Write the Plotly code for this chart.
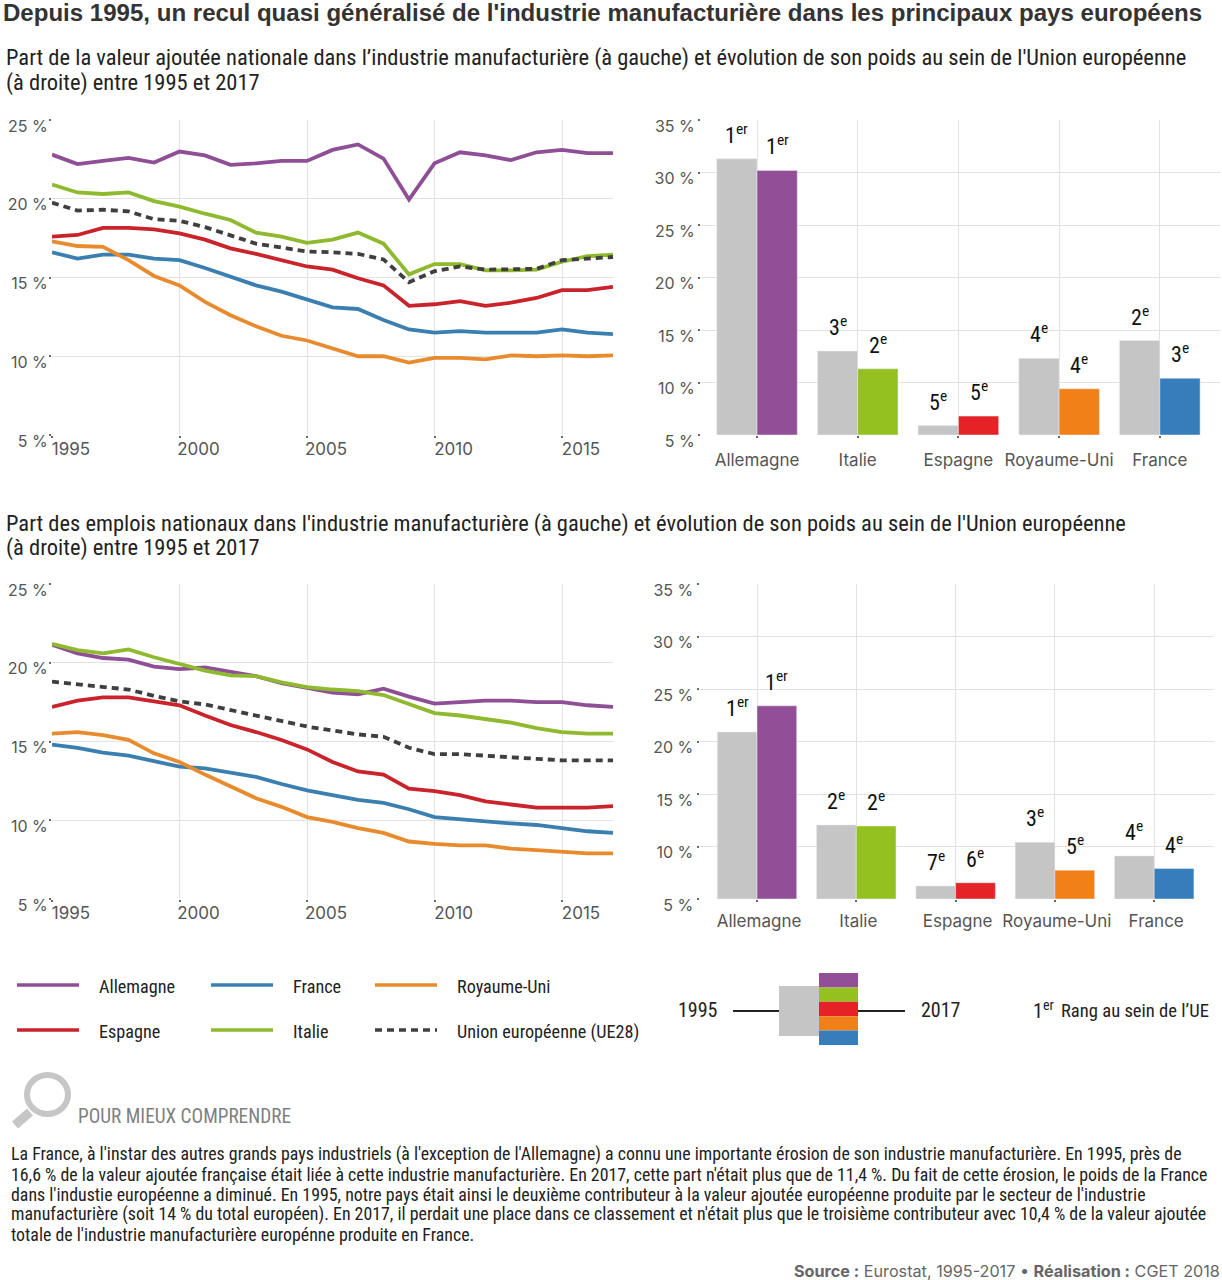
import plotly.graph_objects as go

W = 1222
H = 1280

years = list(range(1995, 2018))
pays = ["Allemagne", "Italie", "Espagne", "Royaume-Uni", "France"]
pct_ticks = [5, 10, 15, 20, 25]
pct_ticks_bars = [5, 10, 15, 20, 25, 30, 35]
year_ticks = [1995, 2000, 2005, 2010, 2015]

# valeur ajoutee, part nationale
va_allemagne = [22.8, 22.2, 22.4, 22.6, 22.3, 23.0, 22.75, 22.15, 22.25, 22.4, 22.4, 23.1, 23.45, 22.55, 19.95, 22.25, 22.95, 22.75, 22.45, 22.95, 23.1, 22.9, 22.9]
va_france = [16.6, 16.2, 16.45, 16.45, 16.2, 16.1, 15.6, 15.05, 14.5, 14.1, 13.6, 13.1, 13.0, 12.3, 11.7, 11.5, 11.6, 11.5, 11.5, 11.5, 11.7, 11.5, 11.4]
va_ru = [17.3, 17.0, 16.95, 16.1, 15.1, 14.5, 13.45, 12.6, 11.9, 11.3, 11.0, 10.5, 10.0, 10.0, 9.6, 9.9, 9.9, 9.8, 10.05, 10.0, 10.05, 10.0, 10.05]
va_espagne = [17.6, 17.7, 18.15, 18.15, 18.05, 17.8, 17.4, 16.85, 16.5, 16.1, 15.7, 15.5, 14.95, 14.5, 13.2, 13.3, 13.5, 13.2, 13.4, 13.7, 14.2, 14.2, 14.4]
va_italie = [20.9, 20.4, 20.3, 20.4, 19.85, 19.5, 19.05, 18.65, 17.85, 17.6, 17.2, 17.4, 17.85, 17.15, 15.2, 15.85, 15.85, 15.45, 15.45, 15.5, 16.0, 16.35, 16.45]
va_ue = [19.75, 19.25, 19.3, 19.2, 18.7, 18.6, 18.2, 17.7, 17.15, 16.9, 16.65, 16.6, 16.5, 16.15, 14.7, 15.4, 15.7, 15.5, 15.5, 15.55, 16.1, 16.2, 16.3]

# emplois, part nationale
em_allemagne = [21.15, 20.6, 20.3, 20.2, 19.75, 19.6, 19.7, 19.4, 19.15, 18.7, 18.4, 18.1, 18.0, 18.35, 17.85, 17.4, 17.5, 17.6, 17.6, 17.5, 17.5, 17.3, 17.2]
em_france = [14.8, 14.6, 14.3, 14.1, 13.75, 13.4, 13.3, 13.0, 12.75, 12.3, 11.9, 11.6, 11.3, 11.1, 10.7, 10.2, 10.05, 9.95, 9.8, 9.7, 9.5, 9.3, 9.2]
em_ru = [15.5, 15.6, 15.4, 15.1, 14.25, 13.7, 12.9, 12.15, 11.4, 10.85, 10.2, 9.9, 9.5, 9.2, 8.65, 8.5, 8.4, 8.4, 8.2, 8.1, 8.0, 7.9, 7.9]
em_espagne = [17.2, 17.6, 17.8, 17.8, 17.55, 17.3, 16.65, 16.05, 15.6, 15.1, 14.5, 13.7, 13.1, 12.9, 12.0, 11.85, 11.6, 11.2, 11.0, 10.8, 10.8, 10.8, 10.9]
em_italie = [21.2, 20.8, 20.6, 20.85, 20.35, 19.9, 19.5, 19.2, 19.15, 18.75, 18.45, 18.3, 18.2, 17.95, 17.4, 16.8, 16.65, 16.45, 16.2, 15.85, 15.6, 15.5, 15.5]
em_ue = [18.8, 18.65, 18.5, 18.3, 17.9, 17.55, 17.35, 17.0, 16.65, 16.3, 15.95, 15.7, 15.45, 15.3, 14.6, 14.2, 14.2, 14.1, 14.0, 13.9, 13.8, 13.8, 13.8]

# poids au sein de l'UE, 1995 et 2017
va_poids_1995 = [31.3, 13.0, 5.9, 12.3, 14.0]
va_poids_2017 = [30.2, 11.3, 6.8, 9.4, 10.4]
va_rang_1995 = ["1<sup>er</sup>", "3<sup>e</sup>", "5<sup>e</sup>", "4<sup>e</sup>", "2<sup>e</sup>"]
va_rang_2017 = ["1<sup>er</sup>", "2<sup>e</sup>", "5<sup>e</sup>", "4<sup>e</sup>", "3<sup>e</sup>"]

em_poids_1995 = [20.9, 12.05, 6.25, 10.4, 9.1]
em_poids_2017 = [23.4, 11.95, 6.55, 7.75, 7.9]
em_rang_1995 = ["1<sup>er</sup>", "2<sup>e</sup>", "7<sup>e</sup>", "3<sup>e</sup>", "4<sup>e</sup>"]
em_rang_2017 = ["1<sup>er</sup>", "2<sup>e</sup>", "6<sup>e</sup>", "5<sup>e</sup>", "4<sup>e</sup>"]

titre = "Depuis 1995, un recul quasi généralisé de l'industrie manufacturière dans les principaux pays européens"
sous_titre_va = ["Part de la valeur ajoutée nationale dans l’industrie manufacturière (à gauche) et évolution de son poids au sein de l'Union européenne",
                 "(à droite) entre 1995 et 2017"]
sous_titre_em = ["Part des emplois nationaux dans l'industrie manufacturière (à gauche) et évolution de son poids au sein de l'Union européenne",
                 "(à droite) entre 1995 et 2017"]
texte = ["La France, à l'instar des autres grands pays industriels (à l'exception de l'Allemagne) a connu une importante érosion de son industrie manufacturière. En 1995, près de",
         "16,6 % de la valeur ajoutée française était liée à cette industrie manufacturière. En 2017, cette part n'était plus que de 11,4 %. Du fait de cette érosion, le poids de la France",
         "dans l'industie européenne a diminué. En 1995, notre pays était ainsi le deuxième contributeur à la valeur ajoutée européenne produite par le secteur de l'industrie",
         "manufacturière (soit 14 % du total européen). En 2017, il perdait une place dans ce classement et n'était plus que le troisième contributeur avec 10,4 % de la valeur ajoutée",
         "totale de l'industrie manufacturière europénne produite en France."]

VIOLET = "#8e4f96"
VERT = "#8fb92f"
ROUGE = "#c9242b"
ORANGE = "#e88b2e"
BLEU = "#3a7fb0"
GRIS_UE = "#3f3f3f"
GRIS_BAR = "#c6c5c5"
bar_colors = ["#924f98", "#94c020", "#e52225", "#f18019", "#367ebb"]

NARROW = "Roboto Condensed, Noto Sans ExtraCondensed, Noto Sans Condensed, DejaVu Sans Condensed, Roboto"
WIDE = "Inter"
GRID = "#e2e2e2"


def px(x):
    return x / W


def py(y):
    return 1 - y / H


fig = go.Figure()
annots = []
shapes = []


def text(x, y, s, size=20, color="#222222", font=NARROW, anchor="left"):
    annots.append(dict(xref="paper", yref="paper", x=px(x), y=py(y), text=s, showarrow=False,
                       xanchor=anchor, yanchor="middle", align=anchor, borderpad=0,
                       font=dict(family=font, size=size, color=color)))


def rect(x0, y0, x1, y1, color):
    shapes.append(dict(type="rect", xref="paper", yref="paper", x0=px(x0), x1=px(x1), y0=py(y0), y1=py(y1),
                       fillcolor=color, line_width=0, layer="above"))


def hline(x0, x1, y, color, width=3, dash="solid"):
    shapes.append(dict(type="line", xref="paper", yref="paper", x0=px(x0), x1=px(x1), y0=py(y), y1=py(y),
                       line=dict(color=color, width=width, dash=dash), layer="above"))


def y_axis(ticks, top, bottom, anchor, standoff):
    return dict(domain=[py(bottom), py(top)], range=[min(ticks), max(ticks)], tickvals=ticks,
                ticktext=[str(t) + " %" for t in ticks],
                anchor=anchor, showgrid=True, gridcolor=GRID, gridwidth=1, zeroline=False, showline=False,
                ticks="outside", ticklen=2, tickwidth=2, tickcolor="#666666", ticklabelshift=6,
                ticklabelstandoff=standoff, tickfont=dict(family=WIDE, size=16, color="#555555"))


def line_panel(n, series, left, right, top, bottom):
    xa = "x" + str(n)
    ya = "y" + str(n)
    for values, color, dash in series:
        fig.add_trace(go.Scatter(x=years, y=values, mode="lines", xaxis=xa, yaxis=ya, showlegend=False,
                                 line=dict(color=color, width=3.8, dash=dash)))
    fig.layout["xaxis" + str(n)] = dict(domain=[px(left), px(right)], range=[1995, 2017], tickvals=year_ticks,
                                        anchor=ya, showgrid=True, gridcolor=GRID, gridwidth=1, zeroline=False,
                                        showline=False, ticks="outside", ticklen=2, tickwidth=2, tickcolor="#666666",
                                        ticklabelshift=19, ticklabelstandoff=-3,
                                        tickfont=dict(family=WIDE, size=17, color="#555555"))
    fig.layout["yaxis" + str(n)] = y_axis(pct_ticks, top, bottom, xa, -2)


def bar_panel(n, v1995, v2017, r1995, r2017, left, right, top, bottom, center, step, shift, standoff):
    xa = "x" + str(n)
    ya = "y" + str(n)
    fig.add_trace(go.Bar(x=pays, y=[v - 5 for v in v1995], base=5, xaxis=xa, yaxis=ya, showlegend=False,
                         marker_color=GRIS_BAR))
    fig.add_trace(go.Bar(x=pays, y=[v - 5 for v in v2017], base=5, xaxis=xa, yaxis=ya, showlegend=False,
                         marker_color=bar_colors))
    fig.layout["xaxis" + str(n)] = dict(domain=[px(left), px(right)], type="category", categoryorder="array",
                                        categoryarray=pays,
                                        range=[(left - center) / step, (right - center) / step], anchor=ya,
                                        showgrid=True, gridcolor=GRID, gridwidth=1, zeroline=False, showline=False,
                                        ticks="outside", ticklen=2, tickwidth=2, tickcolor="#666666",
                                        ticklabelstandoff=standoff, ticklabelshift=shift,
                                        tickfont=dict(family=WIDE, size=17, color="#555555"))
    fig.layout["yaxis" + str(n)] = y_axis(pct_ticks_bars, top, bottom, xa, 0)
    for i in range(len(pays)):
        for off, val, rang in [(-0.2, v1995[i], r1995[i]), (0.2, v2017[i], r2017[i])]:
            annots.append(dict(xref=xa, yref=ya, x=i + off, y=val, text=rang, showarrow=False, yanchor="bottom",
                               yshift=9, font=dict(family=NARROW, size=22, color="#111111")))


line_panel(1, [(va_allemagne, VIOLET, "solid"), (va_france, BLEU, "solid"), (va_ru, ORANGE, "solid"),
               (va_espagne, ROUGE, "solid"), (va_italie, VERT, "solid"), (va_ue, GRIS_UE, "7px,5px")],
           52, 613, 120, 435)
bar_panel(2, va_poids_1995, va_poids_2017, va_rang_1995, va_rang_2017, 701, 1220, 120, 435, 757, 100.7, 0, 8)
line_panel(3, [(em_allemagne, VIOLET, "solid"), (em_france, BLEU, "solid"), (em_ru, ORANGE, "solid"),
               (em_espagne, ROUGE, "solid"), (em_italie, VERT, "solid"), (em_ue, GRIS_UE, "7px,5px")],
           52, 613, 584, 899)
bar_panel(4, em_poids_1995, em_poids_2017, em_rang_1995, em_rang_2017, 699.5, 1214, 584, 899, 757, 99.3, 2, 5)

# titres
text(1.5, 12, "<b>" + titre + "</b>", size=24.05, color="#333333", font="Liberation Sans")
text(5, 58, sous_titre_va[0], size=22.5)
text(5, 82, sous_titre_va[1], size=22.5)
text(5, 523, sous_titre_em[0], size=22.5)
text(5, 547, sous_titre_em[1], size=22.5)

# legende
for x0, y0, color, dash, label in [(17, 985, VIOLET, "solid", "Allemagne"), (211, 985, BLEU, "solid", "France"),
                                   (375, 985, ORANGE, "solid", "Royaume-Uni"), (17, 1030, ROUGE, "solid", "Espagne"),
                                   (211, 1030, VERT, "solid", "Italie"),
                                   (375, 1030, GRIS_UE, "7px,5px", "Union européenne (UE28)")]:
    hline(x0, x0 + 62, y0, color, width=3.5, dash=dash)
    text(x0 + 81, y0 + 1.5, label, size=18.2)

# schema 1995 / 2017
hline(733, 779, 1011, "#222222", width=2)
hline(858, 905, 1011, "#222222", width=2)
rect(779, 986, 819.5, 1036, GRIS_BAR)
for i, c in enumerate(bar_colors):
    rect(819, 973 + i * 14.4, 858, 973 + (i + 1) * 14.4, c)
text(677, 1010, "1995", size=20)
text(920, 1010, "2017", size=20)
text(1032, 1010, "1<sup>er</sup>", size=20)
text(1060, 1011, "Rang au sein de l’UE", size=18.6)

# loupe
shapes.append(dict(type="circle", xref="paper", yref="paper", x0=px(27), x1=px(68), y0=py(1075), y1=py(1114),
                   line=dict(color="#c6c6c6", width=6), fillcolor="white", layer="above"))
shapes.append(dict(type="line", xref="paper", yref="paper", x0=px(30), x1=px(15), y0=py(1112), y1=py(1125),
                   line=dict(color="#c6c6c6", width=9), layer="above"))
text(77, 1116, "POUR MIEUX COMPRENDRE", size=19.3, color="#808080")

for i, line in enumerate(texte):
    text(9.5, 1154 + i * 20, line, size=17.85)

text(1221, 1271, "<b>Source :</b> Eurostat, 1995-2017 • <b>Réalisation :</b> CGET 2018", size=16.2,
     color="#666666", font=WIDE, anchor="right")

fig.update_layout(width=W, height=H, margin=dict(l=0, r=0, t=0, b=0, autoexpand=False), paper_bgcolor="white",
                  plot_bgcolor="white", barmode="group", bargap=0.2, bargroupgap=0, annotations=annots, shapes=shapes,
                  showlegend=False)

fig.write_html("out.html", config={"displayModeBar": False}, post_script="document.body.style.margin='0';")
